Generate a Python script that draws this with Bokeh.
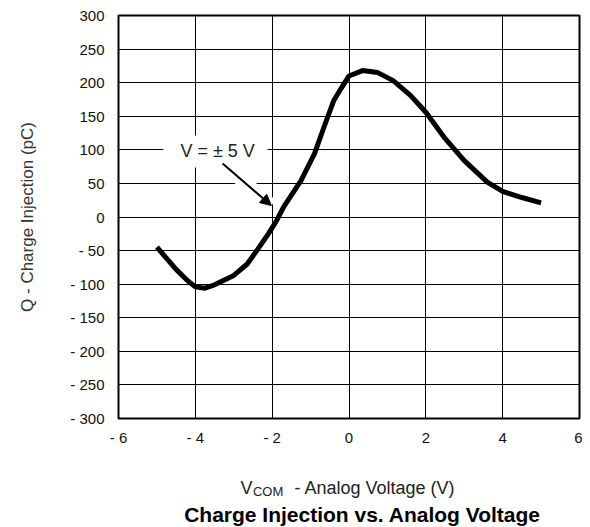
import math
from bokeh.plotting import figure
from bokeh.layouts import column
from bokeh.models import (Range1d, FixedTicker, Label, Arrow, NormalHead,
                          BoxAnnotation)
from bokeh.embed import file_html
from bokeh.resources import INLINE

# ---- data ----
vcom = [-5.0, -4.5, -4.2, -4.0, -3.75, -3.5, -3.0, -2.65, -2.4, -2.1, -1.9,
        -1.7, -1.25, -0.9, -0.65, -0.4, -0.2, 0.0, 0.35, 0.75, 1.15, 1.6,
        2.0, 2.5, 3.0, 3.6, 4.0, 4.5, 5.0]
charge = [-45, -78, -95, -104, -106, -101, -87, -70, -50, -25, -7,
          15, 54, 94, 134, 173, 192, 210, 218, 215, 203, 181,
          156, 117, 84, 52, 38, 29, 21]

x_ticks = [-6, -4, -2, 0, 2, 4, 6]
y_ticks = list(range(-300, 301, 50))

def fmt(v):
    return f"- {abs(v)}" if v < 0 else f"{v}"

FONT = "Liberation Sans"

# annotation anchors (data units)
NOTE_TEXT = "V = ± 5 V"
NOTE_POS = (-3.42, 99)
NOTE_BOX = (-4.83, -2.12, 73.7, 121.3)  # left, right, bottom, top
ARROW_TAIL = (-3.29, 79.6)
ARROW_TIP = (-2.02, 17.0)

W = 582
p = figure(width=W, height=450, output_backend="svg", toolbar_location=None,
           x_range=Range1d(-6, 6), y_range=Range1d(-300, 300),
           min_border_left=118, min_border_right=3, min_border_top=15,
           min_border_bottom=32)
p.background_fill_color = "white"
p.border_fill_color = "white"
p.outline_line_color = "black"
p.outline_line_width = 2

for ax in (p.xaxis[0], p.yaxis[0]):
    ax.axis_line_color = None
    ax.major_tick_in = 0
    ax.major_tick_out = 0
    ax.minor_tick_in = 0
    ax.minor_tick_out = 0
    ax.major_label_text_font = FONT
    ax.major_label_text_font_size = "15px"
    ax.major_label_text_color = "#111111"
p.xaxis.major_label_standoff = 10
p.yaxis.major_label_standoff = 14

p.xaxis.ticker = FixedTicker(ticks=x_ticks)
p.yaxis.ticker = FixedTicker(ticks=y_ticks)
p.xaxis.major_label_overrides = {t: fmt(t) for t in x_ticks}
p.yaxis.major_label_overrides = {t: fmt(t) for t in y_ticks}

p.yaxis.axis_label = "Q - Charge Injection (pC)"
p.yaxis.axis_label_text_font = FONT
p.yaxis.axis_label_text_font_size = "17px"
p.yaxis.axis_label_text_font_style = "normal"
p.yaxis.axis_label_text_color = "#333333"
p.yaxis.axis_label_standoff = 30

p.xgrid.ticker = FixedTicker(ticks=x_ticks)
p.ygrid.ticker = FixedTicker(ticks=y_ticks)
p.grid.grid_line_color = "black"
p.grid.grid_line_width = 1
p.grid.grid_line_alpha = 1

# white box behind annotation text
p.add_layout(BoxAnnotation(left=NOTE_BOX[0], right=NOTE_BOX[1],
                           bottom=NOTE_BOX[2], top=NOTE_BOX[3],
                           fill_color="white", fill_alpha=1,
                           line_color=None, level="underlay"))

# white halo under arrow
p.line([ARROW_TAIL[0], ARROW_TIP[0]], [ARROW_TAIL[1], ARROW_TIP[1]],
       line_color="white", line_width=14)

# curve
p.line(vcom, charge, line_color="black", line_width=5,
       line_join="round", line_cap="butt")

p.add_layout(Arrow(x_start=ARROW_TAIL[0], y_start=ARROW_TAIL[1],
                   x_end=ARROW_TIP[0], y_end=ARROW_TIP[1],
                   line_color="black", line_width=2,
                   end=NormalHead(size=11, fill_color="black",
                                  line_color="black")))

p.add_layout(Label(x=NOTE_POS[0], y=NOTE_POS[1], text=NOTE_TEXT,
                   text_font=FONT, text_font_size="18px",
                   text_color="#222222", text_align="center",
                   text_baseline="middle"))

# ---- caption strip below the chart (shares the x scale; y in pixels, downward) ----
q = figure(width=W, height=77, output_backend="svg", toolbar_location=None,
           x_range=p.x_range, y_range=Range1d(527, 450),
           x_axis_location=None, y_axis_location=None,
           min_border_left=118, min_border_right=3,
           min_border_top=0, min_border_bottom=0)
q.grid.visible = False
q.outline_line_color = None
q.background_fill_color = "white"
q.border_fill_color = "white"

q.add_layout(Label(x=-2.824, y=487, text="V", text_font=FONT,
                   text_font_size="18px", text_color="#222222",
                   text_align="left", text_baseline="alphabetic"))
q.add_layout(Label(x=-2.50, y=491, text="COM", text_font=FONT,
                   text_font_size="13px", text_color="#222222",
                   text_align="left", text_baseline="alphabetic"))
q.add_layout(Label(x=-1.419, y=487, text="-  Analog Voltage (V)",
                   text_font=FONT, text_font_size="18px",
                   text_color="#222222", text_align="left",
                   text_baseline="alphabetic"))
q.add_layout(Label(x=0.351, y=514,
                   text="Charge Injection vs. Analog Voltage",
                   text_font=FONT, text_font_size="21px",
                   text_font_style="bold", text_color="black",
                   text_align="center", text_baseline="alphabetic"))

layout = column(p, q, spacing=0)
open("out.html", "w").write(file_html(layout, INLINE))
